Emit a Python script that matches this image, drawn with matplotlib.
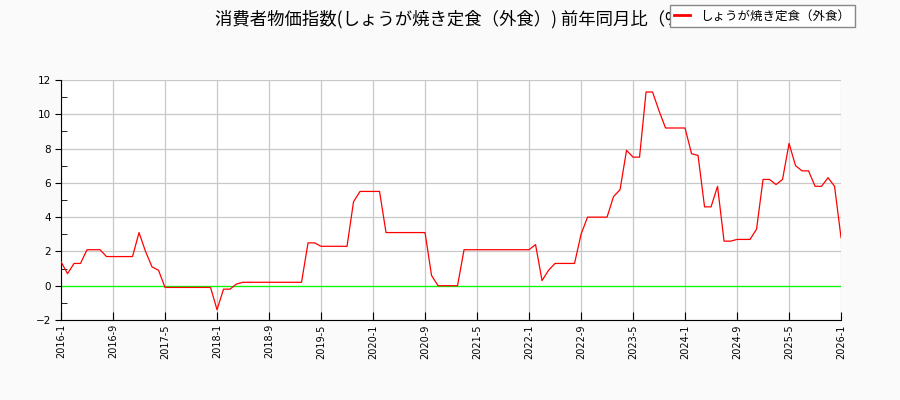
import numpy as np
import matplotlib
matplotlib.use("Agg")
import matplotlib.pyplot as plt
from matplotlib.ticker import MultipleLocator

plt.rcParams['font.family'] = ['Noto Sans CJK JP', 'DejaVu Sans']

# monthly labels 2016-1 .. 2026-1
months = [f"{2016 + k // 12}-{k % 12 + 1}" for k in range(121)]

# 前年同月比 (%)
yoy = [
    1.4, 0.7, 1.3, 1.3, 2.1, 2.1, 2.1, 1.7, 1.7, 1.7, 1.7, 1.7,        # 2016
    3.1, 2.0, 1.1, 0.9, -0.1, -0.1, -0.1, -0.1, -0.1, -0.1, -0.1, -0.1,  # 2017
    -1.4, -0.2, -0.2, 0.1, 0.2, 0.2, 0.2, 0.2, 0.2, 0.2, 0.2, 0.2,     # 2018
    0.2, 0.2, 2.5, 2.5, 2.3, 2.3, 2.3, 2.3, 2.3, 4.9, 5.5, 5.5,        # 2019
    5.5, 5.5, 3.1, 3.1, 3.1, 3.1, 3.1, 3.1, 3.1, 0.6, 0.0, 0.0,        # 2020
    0.0, 0.0, 2.1, 2.1, 2.1, 2.1, 2.1, 2.1, 2.1, 2.1, 2.1, 2.1,        # 2021
    2.1, 2.4, 0.3, 0.9, 1.3, 1.3, 1.3, 1.3, 3.0, 4.0, 4.0, 4.0,        # 2022
    4.0, 5.2, 5.6, 7.9, 7.5, 7.5, 11.3, 11.3, 10.2, 9.2, 9.2, 9.2,     # 2023
    9.2, 7.7, 7.6, 4.6, 4.6, 5.8, 2.6, 2.6, 2.7, 2.7, 2.7, 3.3,        # 2024
    6.2, 6.2, 5.9, 6.2, 8.3, 7.0, 6.7, 6.7, 5.8, 5.8, 6.3, 5.8,        # 2025
    2.8,                                                               # 2026
]

series_name = "しょうが焼き定食（外食）"
title = "消費者物価指数(しょうが焼き定食（外食）) 前年同月比（%）"

x = np.arange(len(months))

fig = plt.figure(figsize=(9, 4), dpi=100, facecolor='#fafafa')
ax = fig.add_axes([0.0678, 0.2, 0.8667, 0.6])
ax.set_facecolor('white')

ax.plot(x, yoy, color='#ff0000', linewidth=0.9, label=series_name, zorder=3)
ax.axhline(0, color='#00ff00', linewidth=0.9, zorder=2)

ax.set_xlim(0, len(months) - 1)
ax.set_ylim(-2, 12)
ax.set_xticks(x[::8])
ax.set_xticklabels(months[::8], rotation=90, family=['DejaVu Sans'])
ax.yaxis.set_major_locator(MultipleLocator(2))
ax.yaxis.set_minor_locator(MultipleLocator(1))
for lab in ax.get_yticklabels():
    lab.set_family(['DejaVu Sans'])

ax.grid(True, which='major', color='#c8c8c8', linewidth=0.9)
ax.set_axisbelow(True)
ax.tick_params(axis='x', direction='in', length=6, labelsize=7, pad=3)
ax.tick_params(axis='y', which='major', direction='out', length=4, labelsize=7.5, pad=3)
ax.tick_params(axis='y', which='minor', direction='in', length=4)
ax.spines['top'].set_visible(False)
ax.spines['right'].set_visible(False)

fig.suptitle(title, fontsize=12.5, x=0.507, y=0.975)
leg = fig.legend(loc='upper right', bbox_to_anchor=(0.9565, 1.003), fontsize=9,
                 fancybox=False, edgecolor='#888888', framealpha=1,
                 handlelength=1.3, borderpad=0.35)
leg.get_lines()[0].set_linewidth(2)

fig.savefig('out.png', dpi=100, facecolor=fig.get_facecolor())
